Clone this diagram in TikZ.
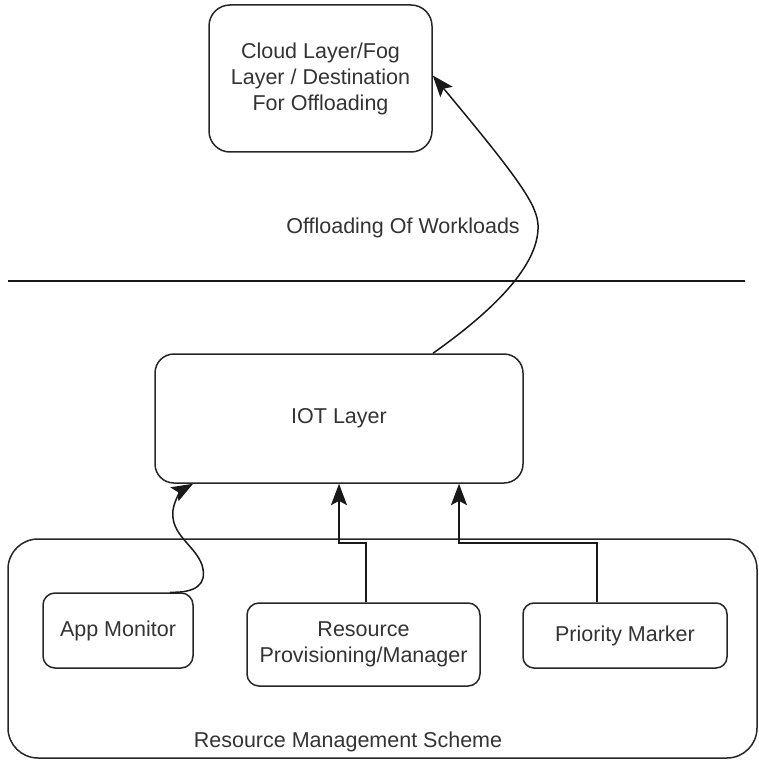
\documentclass[tikz,border=0pt]{standalone}
\usepackage{fontspec}
\setmainfont{Liberation Sans}
\usetikzlibrary{arrows.meta,calc}
\begin{document}
\begin{tikzpicture}[x=1pt,y=-1pt,
  txt/.style={text=black!80,font=\fontsize{21.5}{26}\selectfont,align=center},
  box/.style={draw=black!85,line width=1.5pt,rectangle,txt,inner sep=0pt},
  conn/.style={draw=black!90,line width=1.5pt},
  arr/.style={conn,arrows={-Stealth[scale=2.2,inset=2pt]}}]
\useasboundingbox (0,0) rectangle (759,762);
% outer scheme box
\node[box,minimum width=749pt,minimum height=219pt,rounded corners=30pt] (outer) at (382.5,648.5) {};
\node[txt] (scheme) at (348,742) {Resource Management Scheme};
% top
\node[box,minimum width=223pt,minimum height=147pt,rounded corners=21pt] (cloud) at (320.5,78.5)
  {Cloud Layer/Fog\\Layer / Destination\\For Offloading};
\node[box,minimum width=368pt,minimum height=129pt,rounded corners=19pt] (iot) at (339,418.5) {IOT Layer};
\node[box,minimum width=150pt,minimum height=75pt,rounded corners=12pt] (app) at (118,630.5) {App Monitor};
\node[box,minimum width=233pt,minimum height=83pt,rounded corners=12pt] (res) at (363.5,644.5) {Resource\\Provisioning/Manager};
\node[box,minimum width=204pt,minimum height=65pt,rounded corners=11pt] (pri) at (625,635.5) {Priority Marker};
\node[txt] (offl) at (403,228) {Offloading Of Workloads};
% separator line
\coordinate (hl1) at (8,281);
\coordinate (hl2) at (745,281);
\draw[conn,line width=1.3pt] (hl1) -- (hl2);
% offloading curve
\draw[arr] ([xshift=94pt]iot.north) .. controls (480,320) and (540,270) .. (538,225)
  .. controls (537,205) and (520,180) .. ([yshift=3pt]cloud.east);
% app monitor curve
\draw[arr] ([xshift=52pt]app.north) .. controls (195,593) and (208,585) .. (202,565)
  .. controls (195,545) and (170,535) .. (173,510)
  .. controls (175,498) and (182,490) .. ([xshift=-146pt]iot.south);
% orthogonal connectors
\draw[arr] ([xshift=2.5pt]res.north) -- ([xshift=2.5pt]res.north |- 0,543) -| (iot.south);
\draw[arr] ([xshift=-28pt]pri.north) -- ([xshift=-28pt]pri.north |- 0,543) -| ([xshift=120pt]iot.south);
\end{tikzpicture}
\end{document}
